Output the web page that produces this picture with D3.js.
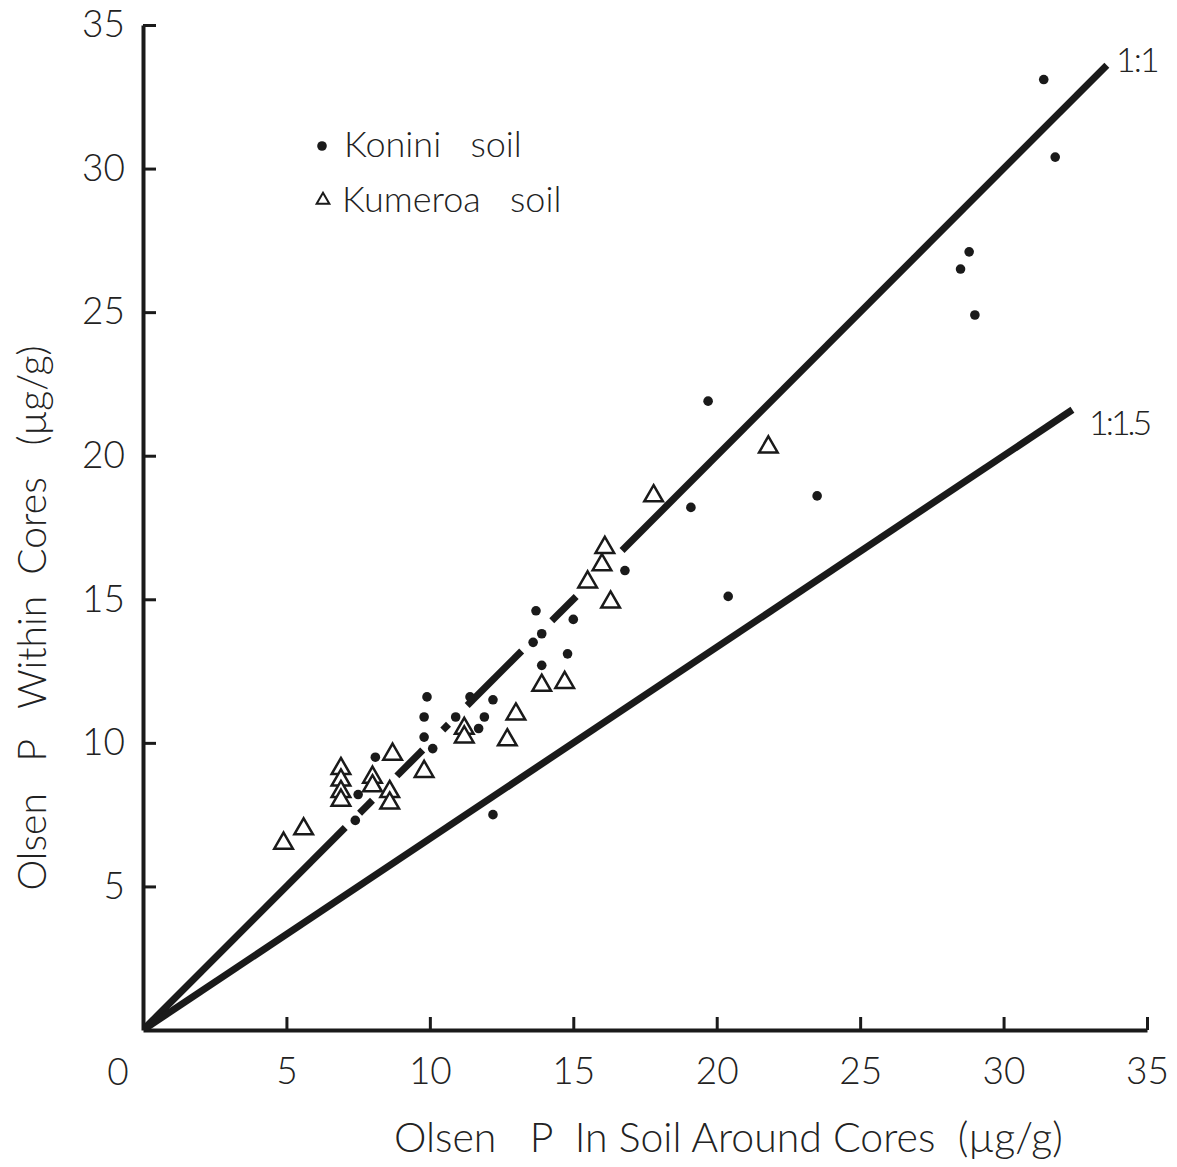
<!DOCTYPE html>
<html>
  <head>
    <meta charset="utf-8">
    <title>Olsen P within cores vs around cores</title>
    <script src="https://d3js.org/d3.v7.min.js"></script>
    <style>
      body { margin: 0; background: #fff; }
      text { font-family: "Lato", "DejaVu Sans", sans-serif; font-weight: 300; fill: #222; white-space: pre; }
    </style>
  </head>
  <body>
  <div id="chart"></div>
  <script>

  // Konini soil (dots): [around cores, within cores]
  var koniniX = [31.4, 31.8, 28.8, 28.5, 29.0, 19.7, 19.1, 23.5, 16.8, 20.4, 13.7, 15.0, 13.9, 13.6, 14.8, 13.9,
                 9.9, 11.4, 12.2, 9.8, 10.9, 11.9, 11.7, 9.8, 10.1, 8.1, 7.5, 6.9, 7.4, 12.2];
  var koniniY = [33.1, 30.4, 27.1, 26.5, 24.9, 21.9, 18.2, 18.6, 16.0, 15.1, 14.6, 14.3, 13.8, 13.5, 13.1, 12.7,
                 11.6, 11.6, 11.5, 10.9, 10.9, 10.9, 10.5, 10.2, 9.8, 9.5, 8.2, 8.4, 7.3, 7.5];

  // Kumeroa soil (triangles)
  var kumeroaX = [4.9, 5.6, 6.9, 6.9, 6.9, 6.9, 8.0, 8.0, 8.7, 8.6, 8.6, 9.8, 11.2, 11.2, 13.0, 12.7,
                  13.9, 14.7, 15.5, 16.3, 16.0, 16.1, 17.8, 21.8];
  var kumeroaY = [6.5, 7.0, 9.1, 8.7, 8.3, 8.0, 8.8, 8.5, 9.6, 8.3, 7.9, 9.0, 10.5, 10.2, 11.0, 10.1,
                  12.0, 12.1, 15.6, 14.9, 16.2, 16.8, 18.6, 20.3];

  var ticks = [5, 10, 15, 20, 25, 30, 35];

  // reference lines: y = x / ratio, drawn as pieces in x
  var line11Pieces = [[0.05, 7.05], [7.55, 8.0], [8.85, 9.75], [10.45, 10.65], [11.3, 13.2], [14.25, 15.1], [16.7, 33.6]];
  var line15Pieces = [[0.05, 32.4]];

  var width = 1177, height = 1167;

  var svg = d3.select("#chart").append("svg")
      .attr("width", width)
      .attr("height", height);

  var x = d3.scaleLinear().domain([0, 35]).range([143, 1147]);
  var y = d3.scaleLinear().domain([0, 35]).range([1030, 25]);

  // axes, ticks pointing inward
  var gx = svg.append("g")
      .attr("transform", "translate(0," + y(0) + ")")
      .call(d3.axisBottom(x).tickValues(ticks).tickSizeInner(-13).tickSizeOuter(0).tickPadding(28));
  var gy = svg.append("g")
      .attr("transform", "translate(" + x(0) + ",0)")
      .call(d3.axisLeft(y).tickValues(ticks).tickSizeInner(-13).tickSizeOuter(0).tickPadding(18));

  [gx, gy].forEach(function(g_){
      g_.select(".domain").attr("stroke", "#1a1a1a").attr("stroke-width", 4);
      g_.selectAll(".tick line").attr("stroke", "#1a1a1a").attr("stroke-width", 3);
      g_.selectAll(".tick text").attr("font-size", 37).attr("fill", "#222")
        .attr("font-family", "Lato, DejaVu Sans, sans-serif").attr("font-weight", 300);
  });

  svg.append("text")
      .attr("x", 118).attr("y", 1085)
      .attr("text-anchor", "middle")
      .attr("font-size", 37)
      .text("0");

  // reference lines
  function drawRef(pieces_, ratio_){
      svg.selectAll(null)
          .data(pieces_)
          .enter()
          .append("line")
          .attr("x1", function(d_){ return x(d_[0]); })
          .attr("y1", function(d_){ return y(d_[0] / ratio_); })
          .attr("x2", function(d_){ return x(d_[1]); })
          .attr("y2", function(d_){ return y(d_[1] / ratio_); })
          .attr("stroke", "#1a1a1a")
          .attr("stroke-width", 7)
          .attr("stroke-linecap", "butt");
  }
  drawRef(line11Pieces, 1);
  drawRef(line15Pieces, 1.5);

  svg.append("text").attr("x", 1116).attr("y", 72).attr("font-size", 34).attr("letter-spacing", "-2px").text("1:1");
  svg.append("text").attr("x", 1089).attr("y", 435).attr("font-size", 34).attr("letter-spacing", "-3px").text("1:1.5");

  // points
  svg.selectAll(".konini")
      .data(koniniX)
      .enter()
      .append("circle")
      .attr("class", "konini")
      .attr("cx", function(d_){ return x(d_); })
      .attr("cy", function(d_, i_){ return y(koniniY[i_]); })
      .attr("r", 4.8)
      .attr("fill", "#1a1a1a");

  var tri = d3.symbol().type(d3.symbolTriangle).size(150);

  svg.selectAll(".kumeroa")
      .data(kumeroaX)
      .enter()
      .append("path")
      .attr("class", "kumeroa")
      .attr("transform", function(d_, i_){ return "translate(" + x(d_) + "," + y(kumeroaY[i_]) + ")"; })
      .attr("d", tri)
      .attr("fill", "#fff")
      .attr("stroke", "#1a1a1a")
      .attr("stroke-width", 2.5);

  // legend
  svg.append("circle").attr("cx", 322).attr("cy", 146).attr("r", 4.8).attr("fill", "#1a1a1a");
  svg.append("text").attr("x", 344).attr("y", 157).attr("font-size", 36).text("Konini   soil");
  svg.append("path").attr("transform", "translate(323,200)")
      .attr("d", d3.symbol().type(d3.symbolTriangle).size(70))
      .attr("fill", "none").attr("stroke", "#1a1a1a").attr("stroke-width", 2);
  svg.append("text").attr("x", 342).attr("y", 212).attr("font-size", 36).text("Kumeroa   soil");

  // axis titles
  svg.append("text")
      .attr("x", 394).attr("y", 1152)
      .attr("font-size", 41)
      .text("Olsen   P  In Soil Around Cores  (µg/g)");

  svg.append("text")
      .attr("transform", "translate(46,618) rotate(-90)")
      .attr("text-anchor", "middle")
      .attr("font-size", 39)
      .text("Olsen   P   Within  Cores   (µg/g)");

  </script>
  </body>
</html>
